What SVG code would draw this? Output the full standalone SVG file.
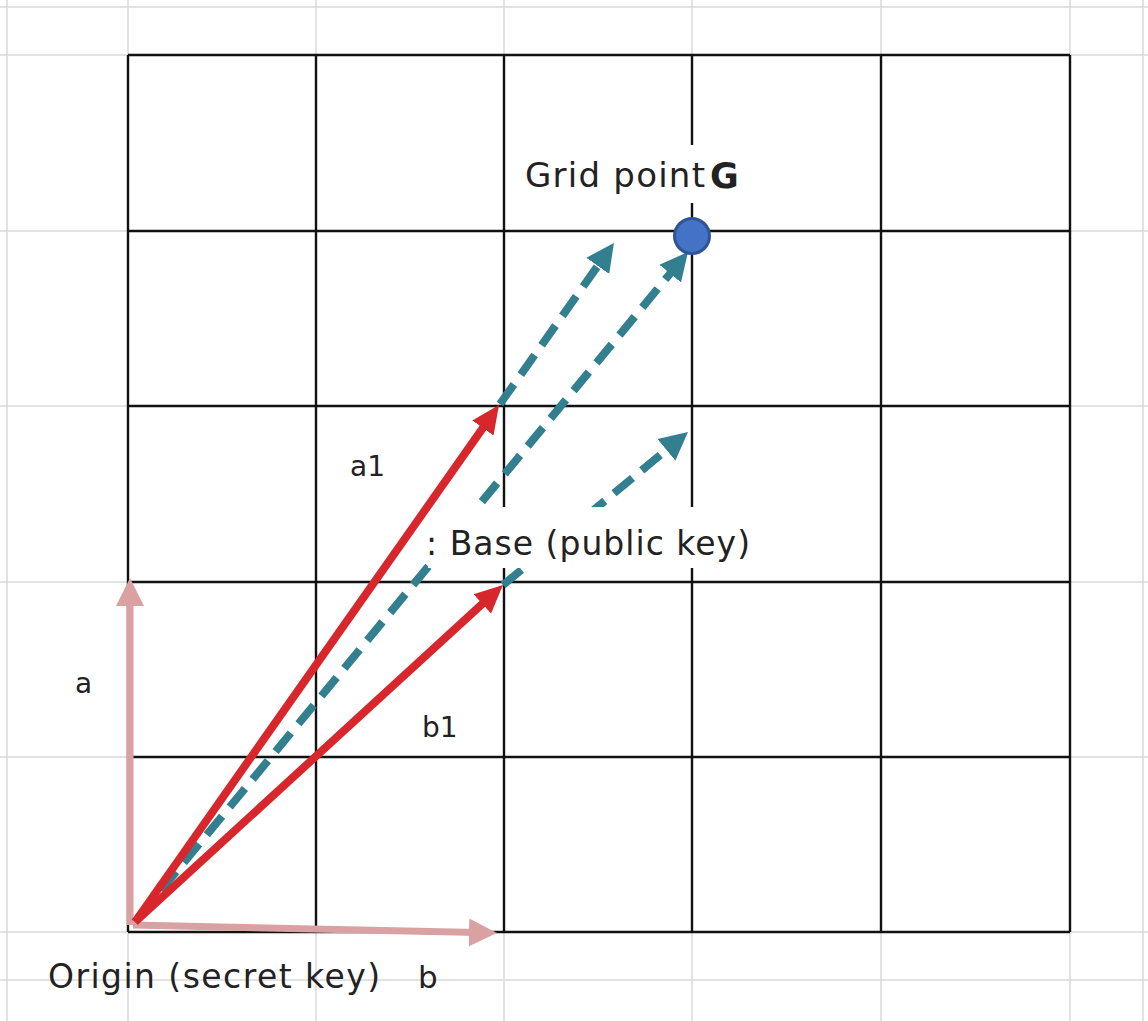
<svg xmlns="http://www.w3.org/2000/svg" width="1148" height="1021" viewBox="0 0 1148 1021">
<style>
.sheet{stroke:#d9d9d9;stroke-width:1.5;fill:none}
.grid{stroke:#111;stroke-width:2.4;fill:none}
.red{stroke:#d7262c;stroke-width:8;fill:none}
.pink{stroke:#d9a1a1;stroke-width:7;fill:none}
.dash{stroke:#327f8f;stroke-width:8;fill:none;stroke-dasharray:24 12}
.lbl{font-family:"DejaVu Sans","Liberation Sans",sans-serif;fill:#222}
.bg{fill:#fff}
</style>
<defs>
<marker id="mRed" markerUnits="userSpaceOnUse" markerWidth="32" markerHeight="32" viewBox="0 -16 32 32" refX="8" refY="0" orient="auto">
<path d="M0,-13 L28,0 L0,13 z" fill="#d7262c"/>
</marker>
<marker id="mPink" markerUnits="userSpaceOnUse" markerWidth="32" markerHeight="32" viewBox="0 -16 32 32" refX="8" refY="0" orient="auto">
<path d="M0,-14 L28,0 L0,14 z" fill="#d9a1a1"/>
</marker>
<marker id="mTeal" markerUnits="userSpaceOnUse" markerWidth="32" markerHeight="32" viewBox="0 -16 32 32" refX="8" refY="0" orient="auto">
<path d="M0,-14 L28,0 L0,14 z" fill="#327f8f"/>
</marker>
</defs>
<rect width="1148" height="1021" fill="#fff"/>
<g id="sheet-lines" class="sheet">
<path d="M0,7H1148 M0,55H1148 M0,231H1148 M0,406H1148 M0,582H1148 M0,757H1148 M0,932H1148 M0,980H1148"/>
<path d="M7,0V1021 M128,0V1021 M316,0V1021 M504,0V1021 M692,0V1021 M881,0V1021 M1070,0V1021 M1143,0V1021"/>
</g>
<g id="lattice" class="grid">
<path d="M128,55H1070 M128,231H1070 M128,406H1070 M128,582H1070 M128,757H1070 M128,932H1070"/>
<path d="M128,55V932 M316,55V932 M504,55V932 M692,55V932 M881,55V932 M1070,55V932"/>
</g>
<g id="connectors">
<line class="dash" x1="138" y1="918" x2="675.3" y2="267.4" marker-end="url(#mTeal)"/>
<line class="dash" x1="500" y1="404" x2="602.4" y2="259.3" marker-end="url(#mTeal)"/>
<line class="dash" x1="503" y1="585" x2="672.6" y2="444.8" marker-end="url(#mTeal)"/>
</g>
<g id="label-grid-point">
<rect class="bg" x="515" y="145" width="235" height="58"/>
<text class="lbl" x="525" y="187" font-size="34" textLength="180" lengthAdjust="spacing">Grid point</text>
<text class="lbl" x="710" y="188" font-size="35" font-weight="bold" fill="#111">G</text>
</g>
<g id="label-base">
<rect class="bg" x="428" y="507" width="332" height="61"/>
<text class="lbl" x="426" y="555" font-size="33" textLength="324" lengthAdjust="spacing">: Base (public key)</text>
</g>
<g id="vectors">
<line class="pink" x1="130" y1="925" x2="130" y2="598" marker-end="url(#mPink)"/>
<line class="pink" x1="133" y1="925" x2="477" y2="932.6" marker-end="url(#mPink)"/>
<line class="red" x1="135" y1="922" x2="487.5" y2="421.4" marker-end="url(#mRed)"/>
<line class="red" x1="135" y1="922" x2="488.2" y2="598.5" marker-end="url(#mRed)"/>
</g>
<g id="node-G">
<circle cx="692" cy="236" r="17.5" fill="#4472c4" stroke="#2f5597" stroke-width="3"/>
</g>
<g id="labels">
<text class="lbl" x="350" y="476" font-size="28">a1</text>
<text class="lbl" x="75" y="693" font-size="28">a</text>
<text class="lbl" x="422" y="737" font-size="28">b1</text>
<text class="lbl" x="48" y="988" font-size="33" textLength="332" lengthAdjust="spacing">Origin (secret key)</text>
<text class="lbl" x="418" y="988" font-size="31">b</text>
</g>
</svg>
